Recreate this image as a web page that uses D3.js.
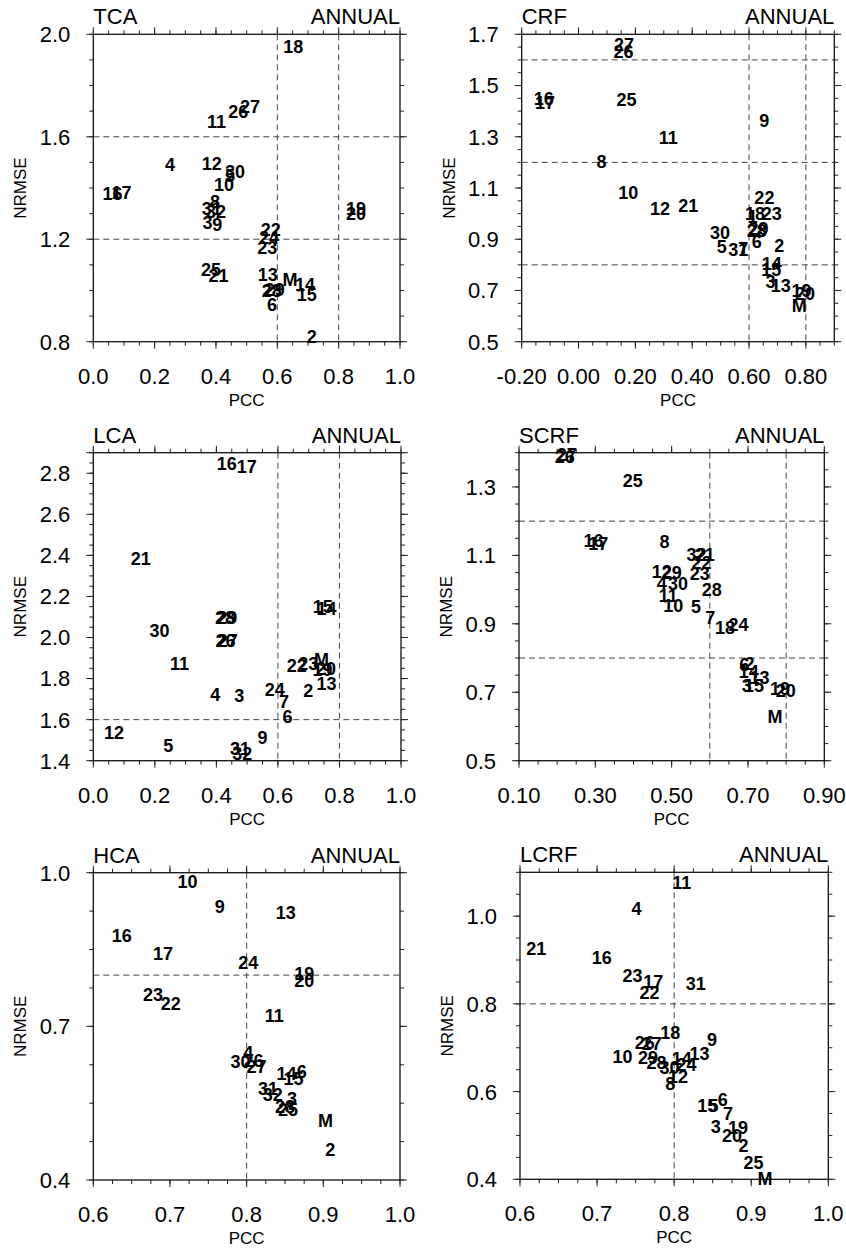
<!DOCTYPE html>
<html>
<head>
<meta charset="utf-8">
<script src="https://cdn.jsdelivr.net/npm/d3@7/dist/d3.min.js"></script>
<style>
body { margin: 0; background: #fff; }
text { font-family: "Liberation Sans", Arial, Helvetica, sans-serif; fill: #000; }
</style>
</head>
<body>
<div id="chart"></div>
<script>
var season = "ANNUAL";

// model label, PCC, NRMSE
var tca = [
    ["18", 0.652, 1.954], ["26", 0.473, 1.700], ["27", 0.511, 1.717], ["11", 0.402, 1.659],
    ["4", 0.250, 1.490], ["12", 0.386, 1.496], ["5", 0.446, 1.448], ["30", 0.462, 1.464],
    ["10", 0.426, 1.412], ["16", 0.063, 1.379], ["17", 0.092, 1.382], ["8", 0.397, 1.349],
    ["31", 0.386, 1.321], ["32", 0.400, 1.307], ["3", 0.372, 1.264], ["9", 0.404, 1.259],
    ["19", 0.857, 1.320], ["20", 0.857, 1.301], ["22", 0.579, 1.236], ["24", 0.573, 1.207],
    ["23", 0.567, 1.167], ["25", 0.384, 1.083], ["21", 0.408, 1.058], ["13", 0.569, 1.064],
    ["M", 0.641, 1.043], ["14", 0.690, 1.024], ["15", 0.696, 0.986], ["28", 0.582, 1.000],
    ["29", 0.592, 1.004], ["6", 0.583, 0.947], ["2", 0.712, 0.819]
];
var crf = [
    ["27", 0.160, 1.662], ["26", 0.158, 1.632], ["16", -0.122, 1.450], ["17", -0.118, 1.435],
    ["25", 0.169, 1.446], ["9", 0.654, 1.365], ["11", 0.316, 1.296], ["8", 0.081, 1.205],
    ["10", 0.175, 1.083], ["12", 0.287, 1.021], ["21", 0.386, 1.030], ["30", 0.498, 0.927],
    ["5", 0.504, 0.871], ["31", 0.562, 0.858], ["7", 0.580, 0.865], ["6", 0.627, 0.890],
    ["22", 0.654, 1.064], ["18", 0.621, 0.999], ["1", 0.612, 0.990], ["23", 0.680, 0.999],
    ["28", 0.627, 0.933], ["29", 0.633, 0.943], ["2", 0.706, 0.874], ["14", 0.680, 0.806],
    ["15", 0.678, 0.780], ["3", 0.676, 0.734], ["13", 0.712, 0.718], ["19", 0.785, 0.700],
    ["20", 0.797, 0.689], ["M", 0.777, 0.643]
];
var lca = [
    ["16", 0.434, 2.847], ["17", 0.499, 2.831], ["21", 0.154, 2.387], ["28", 0.428, 2.097],
    ["29", 0.435, 2.097], ["26", 0.430, 1.984], ["27", 0.437, 1.984], ["30", 0.215, 2.032],
    ["11", 0.280, 1.871], ["15", 0.746, 2.153], ["14", 0.758, 2.142], ["M", 0.742, 1.895],
    ["22", 0.661, 1.863], ["23", 0.699, 1.871], ["19", 0.745, 1.842], ["20", 0.756, 1.847],
    ["13", 0.758, 1.777], ["2", 0.699, 1.742], ["24", 0.590, 1.745], ["7", 0.620, 1.686],
    ["6", 0.631, 1.613], ["4", 0.396, 1.723], ["3", 0.474, 1.715], ["9", 0.550, 1.513],
    ["31", 0.477, 1.460], ["32", 0.484, 1.436], ["12", 0.067, 1.537], ["5", 0.244, 1.476]
];
var scrf = [
    ["26", 0.220, 1.388], ["27", 0.225, 1.396], ["25", 0.398, 1.320], ["16", 0.295, 1.142],
    ["17", 0.308, 1.135], ["8", 0.481, 1.140], ["32", 0.565, 1.101], ["21", 0.587, 1.101],
    ["22", 0.578, 1.079], ["12", 0.474, 1.052], ["29", 0.500, 1.050], ["23", 0.574, 1.046],
    ["4", 0.474, 1.018], ["30", 0.517, 1.018], ["28", 0.605, 1.001], ["11", 0.491, 0.984],
    ["10", 0.504, 0.952], ["5", 0.564, 0.950], ["7", 0.601, 0.919], ["18", 0.640, 0.890],
    ["24", 0.675, 0.897], ["6", 0.690, 0.780], ["2", 0.704, 0.783], ["14", 0.702, 0.760],
    ["13", 0.730, 0.744], ["3", 0.697, 0.721], ["15", 0.716, 0.719], ["19", 0.784, 0.710],
    ["20", 0.799, 0.705], ["M", 0.771, 0.629]
];
var hca = [
    ["10", 0.723, 0.982], ["9", 0.765, 0.934], ["13", 0.851, 0.922], ["16", 0.637, 0.877],
    ["17", 0.691, 0.843], ["24", 0.802, 0.824], ["19", 0.875, 0.803], ["20", 0.875, 0.790],
    ["23", 0.678, 0.763], ["22", 0.701, 0.745], ["11", 0.836, 0.722], ["4", 0.802, 0.649],
    ["30", 0.792, 0.631], ["26", 0.809, 0.634], ["27", 0.813, 0.621], ["14", 0.852, 0.608],
    ["6", 0.872, 0.611], ["15", 0.861, 0.598], ["31", 0.828, 0.579], ["32", 0.834, 0.566],
    ["3", 0.859, 0.559], ["28", 0.850, 0.543], ["25", 0.854, 0.538], ["M", 0.903, 0.517],
    ["2", 0.909, 0.460]
];
var lcrf = [
    ["11", 0.810, 1.077], ["4", 0.751, 1.017], ["21", 0.621, 0.926], ["16", 0.706, 0.905],
    ["23", 0.746, 0.865], ["17", 0.773, 0.850], ["22", 0.768, 0.827], ["31", 0.828, 0.846],
    ["18", 0.795, 0.734], ["9", 0.849, 0.719], ["26", 0.762, 0.713], ["27", 0.771, 0.710],
    ["10", 0.733, 0.679], ["29", 0.766, 0.678], ["13", 0.833, 0.687], ["28", 0.777, 0.666],
    ["30", 0.794, 0.656], ["14", 0.810, 0.675], ["24", 0.816, 0.662], ["12", 0.805, 0.635],
    ["8", 0.795, 0.619], ["15", 0.843, 0.569], ["5", 0.851, 0.569], ["6", 0.863, 0.582],
    ["7", 0.870, 0.550], ["3", 0.854, 0.521], ["19", 0.883, 0.518], ["20", 0.875, 0.499],
    ["2", 0.890, 0.476], ["25", 0.903, 0.438], ["M", 0.918, 0.402]
];

// axis ranges, tick values and tick labels
var xTicks01 = [0, 0.2, 0.4, 0.6, 0.8, 1.0];
var xLabels01 = ["0.0", "0.2", "0.4", "0.6", "0.8", "1.0"];
var xTicksCrf = [-0.2, 0, 0.2, 0.4, 0.6, 0.8];
var xLabelsCrf = ["-0.20", "0.00", "0.20", "0.40", "0.60", "0.80"];
var xTicksScrf = [0.1, 0.3, 0.5, 0.7, 0.9];
var xLabelsScrf = ["0.10", "0.30", "0.50", "0.70", "0.90"];
var xTicks06 = [0.6, 0.7, 0.8, 0.9, 1.0];
var xLabels06 = ["0.6", "0.7", "0.8", "0.9", "1.0"];

var yTicksTca = [0.8, 1.2, 1.6, 2.0];
var yTicksCrf = [0.5, 0.7, 0.9, 1.1, 1.3, 1.5, 1.7];
var yTicksLca = [1.4, 1.6, 1.8, 2.0, 2.2, 2.4, 2.6, 2.8];
var yTicksScrf = [0.5, 0.7, 0.9, 1.1, 1.3];
var yTicksHca = [0.4, 0.7, 1.0];
var yTicksLcrf = [0.4, 0.6, 0.8, 1.0];

var panels = [
    {name: "TCA", data: tca, xDom: [0, 1], yDom: [0.8, 2.0], xT: xTicks01, xL: xLabels01, yT: yTicksTca,
        xMinor: 0.05, yMinor: 0.1, vLines: [0.6, 0.8], hLines: [1.2, 1.6]},
    {name: "CRF", data: crf, xDom: [-0.2, 0.9], yDom: [0.5, 1.7], xT: xTicksCrf, xL: xLabelsCrf, yT: yTicksCrf,
        xMinor: 0.05, yMinor: 0.05, vLines: [0.6, 0.8], hLines: [0.8, 1.2, 1.6]},
    {name: "LCA", data: lca, xDom: [0, 1], yDom: [1.4, 2.9], xT: xTicks01, xL: xLabels01, yT: yTicksLca,
        xMinor: 0.05, yMinor: 0.05, vLines: [0.6, 0.8], hLines: [1.6], topTick: true},
    {name: "SCRF", data: scrf, xDom: [0.1, 0.9], yDom: [0.5, 1.4], xT: xTicksScrf, xL: xLabelsScrf, yT: yTicksScrf,
        xMinor: 0.05, yMinor: 0.05, vLines: [0.6, 0.8], hLines: [0.8, 1.2]},
    {name: "HCA", data: hca, xDom: [0.6, 1.0], yDom: [0.4, 1.0], xT: xTicks06, xL: xLabels06, yT: yTicksHca,
        xMinor: 0.025, yMinor: 0.075, vLines: [0.8], hLines: [0.8]},
    {name: "LCRF", data: lcrf, xDom: [0.6, 1.0], yDom: [0.4, 1.1], xT: xTicks06, xL: xLabels06, yT: yTicksLcrf,
        xMinor: 0.025, yMinor: 0.05, vLines: [0.8], hLines: [0.8]}
];

// plot boxes in page pixels
var boxes = [
    {left: 93.3, top: 34.3, w: 306.7, h: 307.4},
    {left: 521.7, top: 34.3, w: 312.6, h: 307.4},
    {left: 93.3, top: 452.7, w: 307.7, h: 308},
    {left: 519, top: 452.7, w: 305.3, h: 308},
    {left: 93.3, top: 872.7, w: 306.7, h: 307.3},
    {left: 520, top: 872.3, w: 308.3, h: 307}
];

var svg = d3.select("#chart").append("svg")
    .attr("width", 846)
    .attr("height", 1250);

var majorLen = 7, minorLen = 4;

panels.forEach(function (p, i) {
    var b = boxes[i];
    var x = d3.scaleLinear().domain(p.xDom).range([0, b.w]);
    var y = d3.scaleLinear().domain(p.yDom).range([b.h, 0]);
    var g = svg.append("g").attr("transform", "translate(" + b.left + "," + b.top + ")");

    // reference lines
    g.selectAll(".vl").data(p.vLines).enter().append("line")
        .attr("x1", function (d) { return x(d); })
        .attr("x2", function (d) { return x(d); })
        .attr("y1", 0).attr("y2", b.h)
        .attr("stroke", "#444").attr("stroke-width", 1)
        .attr("stroke-dasharray", "6,4");
    g.selectAll(".hl").data(p.hLines).enter().append("line")
        .attr("y1", function (d) { return y(d); })
        .attr("y2", function (d) { return y(d); })
        .attr("x1", 0).attr("x2", b.w)
        .attr("stroke", "#444").attr("stroke-width", 1)
        .attr("stroke-dasharray", "6,4");

    // minor ticks
    var xm = d3.range(p.xDom[0], p.xDom[1] + 1e-6, p.xMinor);
    var ym = d3.range(p.yDom[0], p.yDom[1] + 1e-6, p.yMinor);
    var tk = g.append("g").attr("stroke", "#222").attr("stroke-width", 1);
    xm.forEach(function (v) {
        tk.append("line").attr("x1", x(v)).attr("x2", x(v)).attr("y1", b.h).attr("y2", b.h + minorLen);
        tk.append("line").attr("x1", x(v)).attr("x2", x(v)).attr("y1", 0).attr("y2", -minorLen);
    });
    ym.forEach(function (v) {
        tk.append("line").attr("y1", y(v)).attr("y2", y(v)).attr("x1", 0).attr("x2", -minorLen);
        tk.append("line").attr("y1", y(v)).attr("y2", y(v)).attr("x1", b.w).attr("x2", b.w + minorLen);
    });
    // major ticks
    var yMajor = p.yT.slice();
    if (p.topTick) yMajor.push(p.yDom[1]);
    p.xT.forEach(function (v) {
        tk.append("line").attr("x1", x(v)).attr("x2", x(v)).attr("y1", b.h).attr("y2", b.h + majorLen);
        tk.append("line").attr("x1", x(v)).attr("x2", x(v)).attr("y1", 0).attr("y2", -majorLen);
    });
    yMajor.forEach(function (v) {
        tk.append("line").attr("y1", y(v)).attr("y2", y(v)).attr("x1", 0).attr("x2", -majorLen);
        tk.append("line").attr("y1", y(v)).attr("y2", y(v)).attr("x1", b.w).attr("x2", b.w + majorLen);
    });

    // frame
    g.append("rect")
        .attr("width", b.w).attr("height", b.h)
        .attr("fill", "none").attr("stroke", "#111").attr("stroke-width", 1.3);

    // tick labels
    g.selectAll(".xl").data(p.xT).enter().append("text")
        .attr("x", function (d) { return x(d); })
        .attr("y", b.h + 42)
        .attr("text-anchor", "middle")
        .attr("font-size", 22)
        .text(function (d, j) { return p.xL[j]; });
    g.selectAll(".yl").data(p.yT).enter().append("text")
        .attr("x", -23)
        .attr("y", function (d) { return y(d); })
        .attr("dy", "0.36em")
        .attr("text-anchor", "end")
        .attr("font-size", 22)
        .text(function (d) { return d.toFixed(1); });

    // titles
    g.append("text").attr("x", 0).attr("y", -10)
        .attr("font-size", 22).text(p.name);
    g.append("text").attr("x", b.w).attr("y", -10)
        .attr("text-anchor", "end")
        .attr("font-size", 22).text(season);

    // axis names
    g.append("text").attr("x", b.w / 2).attr("y", b.h + 64)
        .attr("text-anchor", "middle").attr("font-size", 17).text("PCC");
    g.append("text")
        .attr("transform", "translate(" + (-73) + "," + (b.h / 2) + ") rotate(-90)")
        .attr("text-anchor", "middle").attr("dy", "0.36em")
        .attr("font-size", 17).text("NRMSE");

    // model markers
    g.selectAll(".pt").data(p.data).enter().append("text")
        .attr("x", function (d) { return x(d[1]); })
        .attr("y", function (d) { return y(d[2]); })
        .attr("dy", "0.36em")
        .attr("text-anchor", "middle")
        .attr("font-size", 18)
        .attr("font-weight", "bold")
        .text(function (d) { return d[0]; });
});
</script>
</body>
</html>
